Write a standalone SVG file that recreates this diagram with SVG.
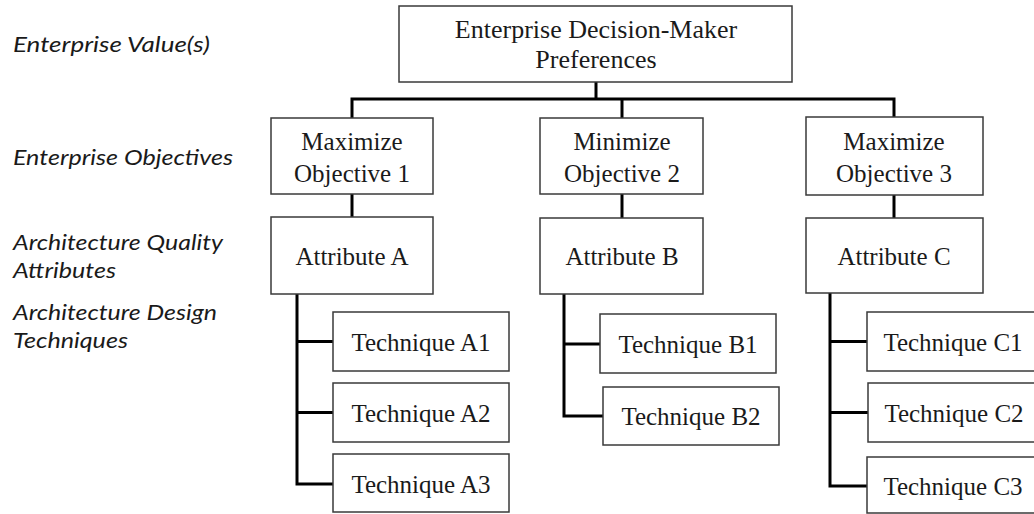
<svg xmlns="http://www.w3.org/2000/svg" width="1034" height="514" viewBox="0 0 1034 514">
  <style>
    .box { fill: #ffffff; stroke: #3a3a3a; stroke-width: 1.5; }
    .lbl { font-family: "Liberation Serif", "Times New Roman", serif; font-size: 25px; fill: #1a1a1a; text-anchor: middle; }
    .big { font-size: 26px; }
    .lvl { font-family: Lato, "Open Sans", "Liberation Sans", sans-serif; font-style: italic; font-size: 21px; fill: #1a1a1a; }
    .wire { fill: none; stroke: #000000; stroke-width: 3; stroke-linejoin: miter; }
  </style>
  <rect width="1034" height="514" fill="#ffffff"/>

  <!-- level captions -->
  <g id="levels">
    <text class="lvl" x="13" y="52" textLength="197" lengthAdjust="spacingAndGlyphs">Enterprise Value(s)</text>
    <text class="lvl" x="13" y="165" textLength="220" lengthAdjust="spacingAndGlyphs">Enterprise Objectives</text>
    <text class="lvl" x="13" y="250" textLength="210" lengthAdjust="spacingAndGlyphs">Architecture Quality</text>
    <text class="lvl" x="13" y="278" textLength="103" lengthAdjust="spacingAndGlyphs">Attributes</text>
    <text class="lvl" x="13" y="320" textLength="204" lengthAdjust="spacingAndGlyphs">Architecture Design</text>
    <text class="lvl" x="13" y="348" textLength="115" lengthAdjust="spacingAndGlyphs">Techniques</text>
  </g>

  <!-- connectors -->
  <g id="connectors" class="wire">
    <path d="M596 82 V99"/>
    <path d="M352 118 V99 H894 V117"/>
    <path d="M622 99 V118"/>
    <path d="M352 194 V217"/>
    <path d="M622 194 V218"/>
    <path d="M894 195 V218"/>
    <path d="M297 294 V484 H333"/>
    <path d="M297 341.5 H333"/>
    <path d="M297 412.5 H333"/>
    <path d="M564 294 V416 H603"/>
    <path d="M564 344 H600"/>
    <path d="M830 293 V486 H867"/>
    <path d="M830 341.5 H867"/>
    <path d="M830 412.5 H868"/>
  </g>

  <g id="preferences">
    <rect class="box" x="399" y="6" width="393" height="76"/>
    <text class="lbl big" x="596" y="38">Enterprise Decision-Maker</text>
    <text class="lbl big" x="596" y="68">Preferences</text>
  </g>

  <g id="objective-1">
    <rect class="box" x="271" y="118" width="162" height="76"/>
    <text class="lbl" x="352" y="150">Maximize</text>
    <text class="lbl" x="352" y="182">Objective 1</text>
  </g>
  <g id="objective-2">
    <rect class="box" x="540" y="118" width="163" height="76"/>
    <text class="lbl" x="622" y="150">Minimize</text>
    <text class="lbl" x="622" y="182">Objective 2</text>
  </g>
  <g id="objective-3">
    <rect class="box" x="806" y="117" width="177" height="78"/>
    <text class="lbl" x="894" y="150">Maximize</text>
    <text class="lbl" x="894" y="182">Objective 3</text>
  </g>

  <g id="attribute-a">
    <rect class="box" x="271" y="217" width="162" height="77"/>
    <text class="lbl" x="352" y="265">Attribute A</text>
  </g>
  <g id="attribute-b">
    <rect class="box" x="540" y="218" width="163" height="76"/>
    <text class="lbl" x="622" y="265">Attribute B</text>
  </g>
  <g id="attribute-c">
    <rect class="box" x="806" y="218" width="177" height="75"/>
    <text class="lbl" x="894" y="265">Attribute C</text>
  </g>

  <g id="technique-a1">
    <rect class="box" x="333" y="312" width="176" height="59"/>
    <text class="lbl" x="421" y="351">Technique A1</text>
  </g>
  <g id="technique-a2">
    <rect class="box" x="333" y="383" width="176" height="59"/>
    <text class="lbl" x="421" y="422">Technique A2</text>
  </g>
  <g id="technique-a3">
    <rect class="box" x="333" y="454" width="176" height="58"/>
    <text class="lbl" x="421" y="493">Technique A3</text>
  </g>

  <g id="technique-b1">
    <rect class="box" x="600" y="314" width="176" height="59"/>
    <text class="lbl" x="688" y="353">Technique B1</text>
  </g>
  <g id="technique-b2">
    <rect class="box" x="603" y="387" width="176" height="58"/>
    <text class="lbl" x="691" y="425">Technique B2</text>
  </g>

  <g id="technique-c1">
    <rect class="box" x="867" y="312" width="180" height="59"/>
    <text class="lbl" x="953" y="351">Technique C1</text>
  </g>
  <g id="technique-c2">
    <rect class="box" x="868" y="383" width="180" height="59"/>
    <text class="lbl" x="954" y="422">Technique C2</text>
  </g>
  <g id="technique-c3">
    <rect class="box" x="867" y="457" width="180" height="56"/>
    <text class="lbl" x="953" y="495">Technique C3</text>
  </g>
</svg>
